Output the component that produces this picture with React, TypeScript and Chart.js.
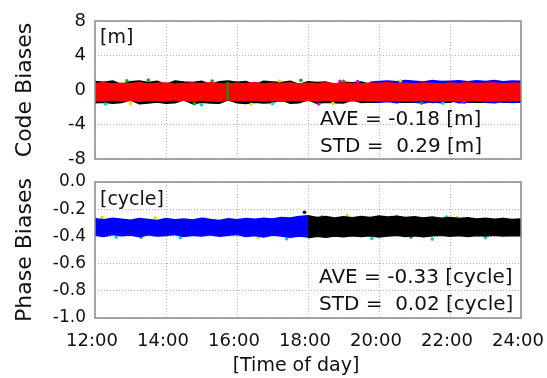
import React, { useEffect, useRef } from 'react';
import { Chart, registerables } from 'chart.js';
Chart.register(...registerables);

const FONT = '"DejaVu Sans", "Liberation Sans", sans-serif';

// ---- axes ----
const xTickValues = [12, 14, 16, 18, 20, 22, 24];
const xTickLabels = ['12:00', '14:00', '16:00', '18:00', '20:00', '22:00', '24:00'];
const codeLabeledTicks = [8, 4, 0, -4, -8];
const phaseLabeledTicks = [0.0, -0.2, -0.4, -0.6, -0.8, -1.0];

// ---- time grid (hours of day) ----
const times = [12, 12.25, 12.5, 12.75, 13, 13.25, 13.5, 13.75, 14, 14.25, 14.5, 14.75, 15, 15.25, 15.5, 15.75,
  16, 16.25, 16.5, 16.75, 17, 17.25, 17.5, 17.75, 18, 18.25, 18.5, 18.75, 19, 19.25, 19.5, 19.75,
  20, 20.25, 20.5, 20.75, 21, 21.25, 21.5, 21.75, 22, 22.25, 22.5, 22.75, 23, 23.25, 23.5, 23.75, 24];

// ---- Code biases [m] ----
const codeRedUpper = [0.72, 0.80, 0.66, 0.75, 0.70, 0.82, 0.68, 0.74, 0.79, 0.65, 0.73, 0.77, 0.69, 0.81, 0.71, 0.66,
  0.76, 0.70, 0.83, 0.68, 0.74, 0.72, 0.79, 0.67, 0.75, 0.71, 0.80, 0.69, 0.76, 0.73, 0.66, 0.78,
  0.72, 0.81, 0.70, 0.75, 0.68, 0.79, 0.73, 0.66, 0.77, 0.71, 0.80, 0.69, 0.74, 0.78, 0.67, 0.75, 0.72];
const codeRedLower = [-1.18, -1.25, -1.10, -1.22, -1.15, -1.28, -1.12, -1.20, -1.24, -1.09, -1.19, -1.26, -1.14, -1.21, -1.27, -1.11,
  -1.18, -1.23, -1.13, -1.25, -1.16, -1.29, -1.12, -1.20, -1.17, -1.24, -1.10, -1.22, -1.19, -1.26, -1.14, -1.21,
  -1.17, -1.25, -1.12, -1.23, -1.18, -1.11, -1.24, -1.20, -1.15, -1.27, -1.13, -1.21, -1.18, -1.25, -1.12, -1.19, -1.16];
const codeBlackUpper = [0.95, 0.86, 1.00, 0.60, 0.92, 1.02, 0.84, 0.97, 0.62, 1.00, 0.90, 0.85, 0.98, 0.62, 0.93, 1.01,
  0.86, 0.96, 0.60, 0.99, 0.91, 0.84, 0.97, 0.62, 0.94, 0.85, 0.90, 0.60, 0.88, 0.82, 0.91, 0.60,
  0.86, 0.60, 0.89, 0.60, 0.87, 0.62, 0.90, 0.60, 0.86, 0.61, 0.89, 0.60, 0.87, 0.62, 0.90, 0.60, 0.88];
const codeBlackLower = [-1.45, -1.38, -1.52, -1.42, -1.10, -1.55, -1.47, -1.36, -1.50, -1.44, -1.10, -1.56, -1.40, -1.48, -1.52, -1.12,
  -1.46, -1.54, -1.38, -1.49, -1.43, -1.10, -1.52, -1.46, -1.12, -1.50, -1.38, -1.45, -1.48, -1.10, -1.42, -1.36,
  -1.40, -1.10, -1.42, -1.35, -1.40, -1.10, -1.41, -1.37, -1.39, -1.10, -1.40, -1.36, -1.38, -1.10, -1.40, -1.35, -1.38];
const codeBlueTimes = [19.75, 20, 20.25, 20.5, 20.75, 21, 21.25, 21.5, 21.75, 22, 22.25, 22.5, 22.75, 23, 23.25, 23.5, 23.75, 24];
const codeBlueUpper = [0.88, 0.95, 1.02, 0.92, 1.06, 0.98, 0.90, 1.08, 0.95, 1.00, 1.05, 0.92, 1.03, 0.96, 1.08, 0.94, 1.02, 0.98];
const codeBlueLower = [-1.10, -1.38, -1.30, -1.45, -1.12, -1.40, -1.48, -1.32, -1.44, -1.15, -1.46, -1.36, -1.10, -1.40, -1.45, -1.30, -1.42, -1.35];
const codeGreenStreakTimes = [15.74, 15.74];
const codeGreenStreakValues = [0.92, -1.2];
const codeGreenOutT = [13.5, 15.3, 17.8, 19.0, 21.2, 14.8, 12.9];
const codeGreenOutV = [1.15, 1.05, 1.12, 1.02, -1.52, -1.58, 1.08];
const codeYellowOutT = [16.4, 18.7, 20.6, 13.0, 17.2];
const codeYellowOutV = [-1.66, -1.55, 1.05, -1.6, 1.04];
const codeCyanOutT = [12.3, 15.0, 17.0, 21.8];
const codeCyanOutV = [-1.62, -1.72, -1.58, -1.55];
const codeMagentaOutT = [18.3, 19.4, 22.4, 18.9];
const codeMagentaOutV = [-1.62, 0.98, -1.45, 1.0];

// ---- Phase biases [cycle] ----
const phaseBlueTimes = [12, 12.25, 12.5, 12.75, 13, 13.25, 13.5, 13.75, 14, 14.25, 14.5, 14.75, 15, 15.25, 15.5, 15.75,
  16, 16.25, 16.5, 16.75, 17, 17.25, 17.5, 17.75, 18];
const phaseBlueUpper = [-0.272, -0.280, -0.268, -0.276, -0.283, -0.270, -0.278, -0.285, -0.271, -0.279, -0.274, -0.282, -0.269, -0.277, -0.284, -0.272,
  -0.279, -0.270, -0.276, -0.268, -0.274, -0.262, -0.266, -0.255, -0.250];
const phaseBlueLower = [-0.390, -0.398, -0.385, -0.394, -0.388, -0.400, -0.386, -0.396, -0.391, -0.384, -0.399, -0.389, -0.395, -0.387, -0.397, -0.390,
  -0.385, -0.398, -0.392, -0.402, -0.388, -0.395, -0.405, -0.396, -0.402];
const phaseBlackTimes = [18, 18.25, 18.5, 18.75, 19, 19.25, 19.5, 19.75, 20, 20.25, 20.5, 20.75, 21, 21.25, 21.5, 21.75,
  22, 22.25, 22.5, 22.75, 23, 23.25, 23.5, 23.75, 24];
const phaseBlackUpper = [-0.250, -0.262, -0.255, -0.266, -0.258, -0.264, -0.256, -0.262, -0.251, -0.259, -0.254, -0.263, -0.257, -0.266, -0.260, -0.268,
  -0.262, -0.271, -0.265, -0.273, -0.268, -0.276, -0.270, -0.278, -0.274];
const phaseBlackLower = [-0.408, -0.398, -0.404, -0.395, -0.401, -0.393, -0.399, -0.394, -0.402, -0.396, -0.390, -0.398, -0.393, -0.400, -0.394, -0.389,
  -0.397, -0.392, -0.399, -0.391, -0.396, -0.390, -0.395, -0.392, -0.394];
const phaseYellowOutT = [12.2, 13.7, 15.1, 19.1, 20.5, 22.2, 23.5, 16.6];
const phaseYellowOutV = [-0.262, -0.265, -0.268, -0.248, -0.252, -0.262, -0.270, -0.408];
const phaseCyanOutT = [12.6, 14.4, 17.4, 19.8, 21.5, 23.0, 18.4, 21.9];
const phaseCyanOutV = [-0.405, -0.410, -0.418, -0.415, -0.420, -0.410, -0.255, -0.258];
const phaseGreenOutT = [12.0, 13.3, 20.9];
const phaseGreenOutV = [-0.270, -0.405, -0.405];
const phaseBlackOutT = [17.9];
const phaseBlackOutV = [-0.222];

const pts = (xs: number[], ys: number[]) => xs.map((x, i) => ({ x, y: ys[i] }));

function band(xs: number[], up: number[], lo: number[], color: string, bw = 2) {
  return [
    { type: 'line', data: pts(xs, up), borderColor: color, backgroundColor: color, borderWidth: bw, pointRadius: 0, fill: '+1', tension: 0 },
    { type: 'line', data: pts(xs, lo), borderColor: color, backgroundColor: color, borderWidth: bw, pointRadius: 0, fill: false, tension: 0 },
  ];
}
function dots(xs: number[], ys: number[], color: string) {
  return { type: 'scatter', data: pts(xs, ys), borderColor: color, backgroundColor: color, pointRadius: 1.8, borderWidth: 0, showLine: false };
}

const GRID = '#b4b4b4';

type T = { text: string; dx: number; dy: number; size: number; align?: CanvasTextAlign };
function overlay(texts: T[]) {
  return {
    id: 'overlay',
    afterDraw(chart: any) {
      const { ctx, chartArea } = chart;
      const { left, top, right, bottom } = chartArea;
      ctx.save();
      ctx.strokeStyle = '#8a8a8a';
      ctx.lineWidth = 1.5;
      ctx.strokeRect(left, top, right - left, bottom - top);
      ctx.fillStyle = '#111';
      ctx.textBaseline = 'alphabetic';
      for (const t of texts) {
        ctx.textAlign = t.align || 'left';
        ctx.font = `${t.size}px ${FONT}`;
        ctx.fillText(t.text, left + t.dx, top + t.dy);
      }
      ctx.restore();
    },
  };
}

const noPad = (s: any) => { s.paddingLeft = 0; s.paddingRight = 0; s.paddingTop = 0; s.paddingBottom = 0; };

function xScale(showLabels: boolean, height: number) {
  return {
    type: 'linear',
    min: 12,
    max: 24,
    afterBuildTicks: (s: any) => { s.ticks = xTickValues.map((v) => ({ value: v })); },
    ticks: {
      display: showLabels,
      callback: (v: number) => xTickLabels[xTickValues.indexOf(v)] ?? '',
      font: { family: FONT, size: 18 },
      color: '#111',
      padding: 13,
      labelOffset: -3,
      maxRotation: 0,
      autoSkip: false,
    },
    grid: { color: GRID, lineWidth: 1, drawTicks: false },
    border: { display: false, dash: [1, 2] },
    afterFit: (s: any) => { s.height = height; noPad(s); },
  };
}

export default function App() {
  const topRef = useRef<HTMLCanvasElement>(null);
  const botRef = useRef<HTMLCanvasElement>(null);

  useEffect(() => {
    const top = new Chart(topRef.current!, {
      type: 'line',
      data: {
        datasets: [
          { type: 'line', data: pts(codeGreenStreakTimes, codeGreenStreakValues), borderColor: '#1a8a1a', borderWidth: 2.5, pointRadius: 0, fill: false },
          ...band(times, codeRedUpper, codeRedLower, '#ff0000', 2),
          dots(codeGreenOutT, codeGreenOutV, '#1aa01a'),
          dots(codeYellowOutT, codeYellowOutV, '#e8e000'),
          dots(codeCyanOutT, codeCyanOutV, '#00d8e0'),
          dots(codeMagentaOutT, codeMagentaOutV, '#e000e0'),
          ...band(codeBlueTimes, codeBlueUpper, codeBlueLower, '#0000ff', 2),
          ...band(times, codeBlackUpper, codeBlackLower, '#000000', 2),
        ] as any,
      },
      options: {
        animation: false,
        responsive: false,
        devicePixelRatio: 1,
        events: [],
        layout: { padding: { top: 21, right: 26, left: 0, bottom: 0 } },
        plugins: { legend: { display: false }, tooltip: { enabled: false } },
        scales: {
          x: xScale(false, 16) as any,
          y: {
            min: -8,
            max: 8,
            ticks: {
              stepSize: 2,
              callback: (v: any) => (codeLabeledTicks.includes(Number(v)) ? String(v) : ''),
              font: { family: FONT, size: 18 },
              color: '#111',
              padding: 9,
            },
            grid: { color: GRID, lineWidth: 1, drawTicks: false },
            border: { display: false, dash: [1, 2] },
            title: { display: true, text: 'Code Biases', font: { family: FONT, size: 22 }, color: '#111', padding: { top: 12, bottom: 0 } },
            afterFit: (s: any) => { s.width = 95; noPad(s); },
          },
        },
      },
      plugins: [overlay([
        { text: '[m]', dx: 5, dy: 21.5, size: 19 },
        { text: 'AVE = -0.18 [m]', dx: 225, dy: 104, size: 20 },
        { text: 'STD =  0.29 [m]', dx: 225, dy: 131, size: 20 },
      ])],
    } as any);

    const bot = new Chart(botRef.current!, {
      type: 'line',
      data: {
        datasets: [
          dots(phaseBlackOutT, phaseBlackOutV, '#000000'),
          ...band(phaseBlueTimes, phaseBlueUpper, phaseBlueLower, '#0000ff', 2),
          ...band(phaseBlackTimes, phaseBlackUpper, phaseBlackLower, '#000000', 2),
          dots(phaseYellowOutT, phaseYellowOutV, '#e8d800'),
          dots(phaseCyanOutT, phaseCyanOutV, '#00d0e0'),
          dots(phaseGreenOutT, phaseGreenOutV, '#1aa01a'),
        ] as any,
      },
      options: {
        animation: false,
        responsive: false,
        devicePixelRatio: 1,
        events: [],
        layout: { padding: { top: 12, right: 26, left: 0, bottom: 0 } },
        plugins: { legend: { display: false }, tooltip: { enabled: false } },
        scales: {
          x: xScale(true, 60) as any,
          y: {
            min: -1.0,
            max: 0.0,
            ticks: {
              stepSize: 0.1,
              callback: (v: any) => {
                const n = Math.round(Number(v) * 10) / 10;
                return phaseLabeledTicks.some((t) => Math.abs(t - n) < 1e-9) ? n.toFixed(1) : '';
              },
              font: { family: FONT, size: 17 },
              color: '#111',
              padding: 9,
            },
            grid: { color: GRID, lineWidth: 1, drawTicks: false },
            border: { display: false, dash: [1, 2] },
            title: { display: true, text: 'Phase Biases', font: { family: FONT, size: 22 }, color: '#111', padding: { top: 12, bottom: 0 } },
            afterFit: (s: any) => { s.width = 95; noPad(s); },
          },
        },
      },
      plugins: [overlay([
        { text: '[cycle]', dx: 5, dy: 22.5, size: 19 },
        { text: 'AVE = -0.33 [cycle]', dx: 224, dy: 101, size: 20 },
        { text: 'STD =  0.02 [cycle]', dx: 224, dy: 128, size: 20 },
        { text: '[Time of day]', dx: 201, dy: 188.5, size: 19, align: 'center' },
      ])],
    } as any);

    return () => { top.destroy(); bot.destroy(); };
  }, []);

  return (
    <div style={{ position: 'fixed', left: 0, top: 0, width: 547, height: 378, background: '#fff' }}>
      <canvas ref={topRef} width={547} height={175} style={{ position: 'absolute', left: 0, top: 0 }} />
      <canvas ref={botRef} width={547} height={208} style={{ position: 'absolute', left: 0, top: 170 }} />
    </div>
  );
}
